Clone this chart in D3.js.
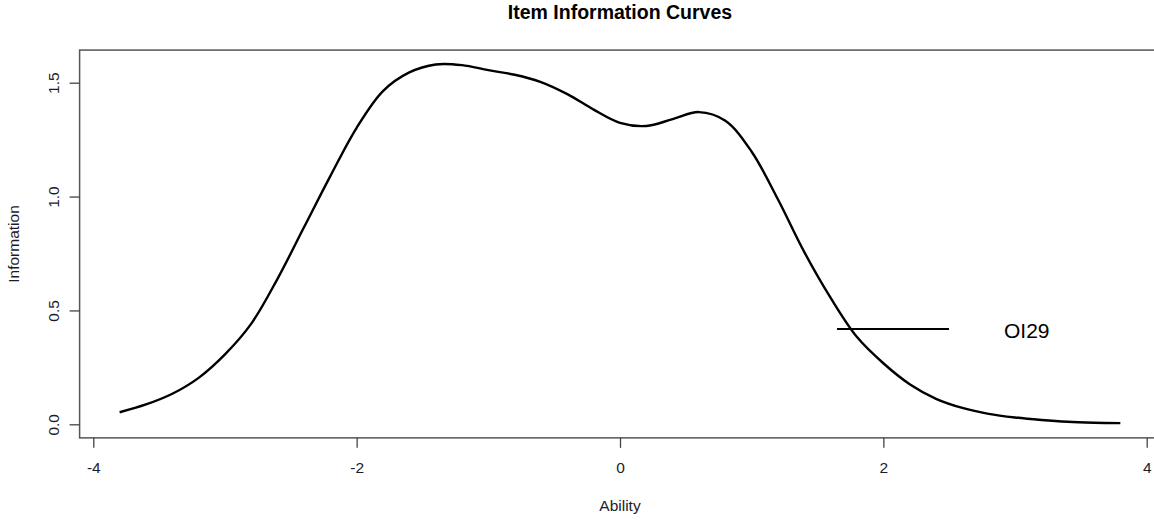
<!DOCTYPE html>
<html>
<head>
<meta charset="utf-8">
<script src="https://cdn.jsdelivr.net/npm/d3@7"></script>
<style>
  html, body { margin: 0; padding: 0; background: #fff; }
  svg { display: block; font-family: "Liberation Sans", Arial, sans-serif; }
</style>
</head>
<body>
<svg id="chart" width="1154" height="521"></svg>
<script>
// ---- data ----
const ability = [-3.8,-3.6,-3.4,-3.2,-3.0,-2.8,-2.6,-2.4,-2.2,-2.0,-1.8,-1.6,-1.4,-1.2,-1.0,-0.8,-0.6,-0.4,-0.2,0.0,0.2,0.4,0.6,0.8,1.0,1.2,1.4,1.6,1.8,2.0,2.2,2.4,2.6,2.8,3.0,3.2,3.4,3.6,3.8];
const information = [0.053,0.087,0.134,0.204,0.307,0.442,0.640,0.865,1.090,1.302,1.463,1.545,1.580,1.577,1.555,1.535,1.503,1.450,1.382,1.324,1.310,1.340,1.371,1.333,1.197,0.987,0.756,0.555,0.383,0.268,0.176,0.112,0.072,0.046,0.030,0.019,0.011,0.007,0.005];
const xTicks = [-4, -2, 0, 2, 4];
const yTicks = [0.0, 0.5, 1.0, 1.5];
const legendLabel = ["OI29"];
const titleText = "Item Information Curves";
const xLabel = "Ability";
const yLabel = "Information";

// ---- layout ----
const svg = d3.select("#chart");
const x = d3.scaleLinear().domain([-4, 4]).range([93.3, 1146.7]);
const y = d3.scaleLinear().domain([0, 1.5]).range([424.3, 82.7]);

const xDom = [-4.104, 4.104];
const yDom = [-0.0596, 1.6432];
const pLeft = x(xDom[0]), pRight = x(xDom[1]);
const pTop = y(yDom[1]), pBottom = y(yDom[0]);

// box
svg.append("rect")
  .attr("x", pLeft).attr("y", pTop)
  .attr("width", pRight - pLeft).attr("height", pBottom - pTop)
  .attr("fill", "none").attr("stroke", "#555").attr("stroke-width", 1.5);

// x axis ticks
const xAxis = svg.append("g").attr("transform", `translate(0,${pBottom})`)
  .call(d3.axisBottom(x).tickValues(xTicks).tickSize(10).tickPadding(14)
    .tickFormat(d => String(d)));
xAxis.select(".domain").remove();
xAxis.selectAll(".tick line").attr("stroke", "#444").attr("stroke-width", 1.3);
xAxis.selectAll(".tick text").attr("font-size", "15.5px").attr("fill", "#1c1c28")
  .attr("font-family", "Liberation Sans, Arial, sans-serif");

// y axis ticks
const yAxis = svg.append("g").attr("transform", `translate(${pLeft},0)`)
  .call(d3.axisLeft(y).tickValues(yTicks).tickSize(10).tickFormat(() => ""));
yAxis.select(".domain").remove();
yAxis.selectAll(".tick line").attr("stroke", "#444").attr("stroke-width", 1.3);
yAxis.selectAll(".tick").append("text")
  .attr("transform", "translate(-21,0) rotate(-90)")
  .attr("text-anchor", "middle")
  .attr("font-size", "15.5px").attr("fill", "#1c1c28")
  .attr("font-family", "Liberation Sans, Arial, sans-serif")
  .text(d => d3.format(".1f")(d));

// curve
const line = d3.line()
  .x((d, i) => x(ability[i]))
  .y(d => y(d))
  .curve(d3.curveCatmullRom.alpha(0.5));
svg.append("path")
  .datum(information)
  .attr("d", line)
  .attr("fill", "none").attr("stroke", "#000").attr("stroke-width", 2.4)
  .attr("stroke-linejoin", "round");

// legend
svg.append("line")
  .attr("x1", 837).attr("x2", 949).attr("y1", 329).attr("y2", 329)
  .attr("stroke", "#000").attr("stroke-width", 2);
svg.append("text")
  .attr("x", 1004).attr("y", 337.5)
  .attr("font-size", "21px").attr("fill", "#000")
  .text(legendLabel[0]);

// title
svg.append("text")
  .attr("x", (pLeft + pRight) / 2).attr("y", 18.5)
  .attr("text-anchor", "middle")
  .attr("font-size", "19.5px").attr("font-weight", "bold")
  .text(titleText);

// axis labels
svg.append("text")
  .attr("x", (pLeft + pRight) / 2).attr("y", 511)
  .attr("text-anchor", "middle")
  .attr("font-size", "15.5px").attr("fill", "#1c1c28")
  .text(xLabel);
svg.append("text")
  .attr("transform", `translate(19,${(pTop + pBottom) / 2}) rotate(-90)`)
  .attr("text-anchor", "middle")
  .attr("font-size", "15.5px").attr("fill", "#1c1c28")
  .text(yLabel);
</script>
</body>
</html>
